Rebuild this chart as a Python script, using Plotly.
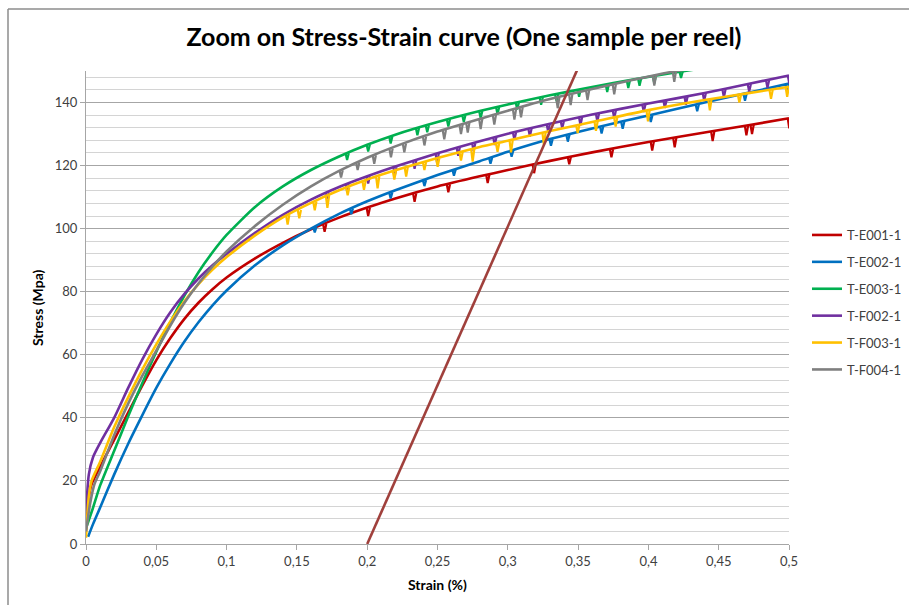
import plotly.graph_objects as go

# ---------------- data ----------------
samples = ["T-E001-1", "T-E002-1", "T-E003-1", "T-F002-1", "T-F003-1", "T-F004-1"]

e001_strain = [0, 0.002, 0.004, 0.01, 0.02, 0.03, 0.04, 0.05, 0.06, 0.07, 0.08, 0.09, 0.1, 0.12, 0.14,
               0.16, 0.18, 0.2, 0.22, 0.25, 0.28, 0.3, 0.33, 0.36, 0.4, 0.44, 0.47, 0.5]
e001_stress = [8, 15, 19, 24.5, 33, 41.7, 50.2, 58.3, 65.3, 71.4, 76.5, 80.8, 84.5, 90.5, 95.5,
               99.8, 103.5, 106.7, 109.6, 113.4, 116.6, 118.6, 121.5, 124.2, 127.5, 130.5, 132.7, 135]
e001_dips = [(0.169, 101.5, 99.0), (0.200, 106.6, 104.0), (0.233, 111.2, 108.5), (0.257, 114.1, 111.5),
             (0.285, 117.1, 114.5), (0.318, 120.4, 117.6), (0.343, 122.7, 120.4), (0.373, 125.2, 122.6),
             (0.402, 127.6, 124.8), (0.418, 128.8, 125.8), (0.445, 130.8, 127.8), (0.469, 132.6, 129.6),
             (0.473, 132.9, 130.0), (0.4995, 135.0, 131.8)]

e002_strain = [0.0015, 0.005, 0.01, 0.02, 0.03, 0.04, 0.05, 0.06, 0.07, 0.08, 0.09, 0.1, 0.12, 0.14,
               0.16, 0.18, 0.2, 0.22, 0.25, 0.28, 0.3, 0.33, 0.36, 0.4, 0.44, 0.47, 0.5]
e002_stress = [2.3, 6.3, 11.5, 22, 31.8, 40.8, 49.5, 57.2, 64.2, 70.3, 75.7, 80.4, 88.3, 94.7,
               100, 104.7, 108.7, 112.2, 117, 121.4, 124.4, 128.4, 131.8, 135.9, 140, 143, 146]
e002_dips = [(0.162, 100.5, 98.8), (0.188, 106.4, 104.6), (0.216, 111.5, 109.6), (0.240, 115.4, 113.5),
             (0.261, 118.7, 116.8), (0.287, 122.5, 120.6), (0.302, 124.7, 122.8), (0.330, 128.4, 126.3),
             (0.342, 129.8, 127.6), (0.366, 132.4, 130.2), (0.381, 133.9, 131.7), (0.401, 136.0, 133.8),
             (0.434, 139.4, 137.2), (0.468, 142.8, 140.6), (0.498, 145.8, 143.5)]

e003_strain = [0, 0.005, 0.01, 0.02, 0.03, 0.04, 0.05, 0.06, 0.07, 0.08, 0.09, 0.1, 0.12, 0.14,
               0.16, 0.18, 0.2, 0.22, 0.25, 0.28, 0.3, 0.33, 0.36, 0.39, 0.42, 0.45, 0.5]
e003_stress = [5, 11.5, 18.5, 29.5, 40.5, 51, 61, 70.3, 78.8, 86.2, 92.5, 98, 106.8, 113.4,
               118.6, 122.9, 126.6, 129.8, 133.8, 137.3, 139.4, 142.3, 144.9, 147.4, 149.6, 151.6, 154.6]
e003_dips = [(0.185, 123.9, 121.8), (0.200, 126.6, 124.5), (0.216, 129.2, 127.0), (0.235, 131.9, 129.6),
             (0.242, 132.8, 130.6), (0.257, 134.7, 132.4), (0.268, 136.0, 133.8), (0.280, 137.3, 135.0),
             (0.292, 138.6, 136.3), (0.306, 140.0, 137.8), (0.323, 141.6, 139.3), (0.334, 142.6, 140.4),
             (0.350, 144.1, 141.8), (0.370, 145.7, 143.3), (0.385, 147.0, 144.6), (0.393, 147.6, 145.3),
             (0.4035, 148.4, 146.0), (0.4225, 149.8, 147.8)]

f002_strain = [0, 0.002, 0.005, 0.01, 0.02, 0.03, 0.04, 0.05, 0.06, 0.07, 0.08, 0.09, 0.1, 0.12, 0.14,
               0.16, 0.18, 0.2, 0.22, 0.25, 0.28, 0.3, 0.33, 0.36, 0.4, 0.44, 0.47, 0.5]
f002_stress = [10, 22, 27.5, 32, 40, 49.5, 58.5, 66.5, 73.5, 79.3, 84.2, 88.4, 92, 98.6, 104.4,
               109.2, 113.2, 116.6, 119.7, 123.9, 127.7, 130.1, 133.3, 136.2, 139.7, 143, 145.8, 148.6]
f002_dips = [(0.171, 111.5, 109.4), (0.185, 114.1, 112.0), (0.200, 116.6, 114.3), (0.219, 119.5, 117.0),
             (0.233, 121.5, 119.0), (0.249, 123.8, 121.0), (0.264, 125.8, 123.1), (0.275, 127.1, 124.6),
             (0.290, 128.9, 126.5), (0.304, 130.5, 128.2), (0.315, 131.7, 129.2), (0.328, 133.1, 130.8),
             (0.338, 134.1, 131.8), (0.351, 135.4, 132.8), (0.363, 136.5, 134.0), (0.375, 137.5, 135.0),
             (0.396, 139.4, 137.0), (0.411, 140.7, 138.3), (0.426, 142.0, 139.3), (0.439, 143.0, 140.5),
             (0.453, 144.2, 141.6), (0.471, 145.9, 143.4), (0.484, 147.1, 144.6), (0.4995, 148.6, 146.0)]

f003_strain = [0, 0.002, 0.004, 0.01, 0.02, 0.03, 0.04, 0.05, 0.06, 0.07, 0.08, 0.09, 0.1, 0.12, 0.14,
               0.16, 0.18, 0.2, 0.22, 0.25, 0.28, 0.3, 0.33, 0.36, 0.4, 0.44, 0.47, 0.5]
f003_stress = [2, 15, 20, 26, 37, 46.5, 55.3, 63.3, 70.6, 77, 82.4, 87, 91, 97.8, 103.6,
               108.2, 112.2, 115.6, 118.5, 122.4, 125.9, 127.9, 131, 133.8, 137.6, 140.8, 142.9, 145]
f003_dips = [(0.1427, 104.3, 101.3), (0.151, 105.9, 103.3), (0.162, 108.6, 105.8), (0.171, 110.4, 106.6),
             (0.1854, 113.1, 110.6), (0.197, 115.1, 112.3), (0.2067, 116.6, 112.8), (0.2186, 118.3, 115.6),
             (0.227, 119.5, 116.5), (0.240, 121.1, 118.6), (0.2494, 122.3, 119.6), (0.266, 124.3, 121.6),
             (0.2743, 125.3, 121.3), (0.292, 127.1, 124.4), (0.3016, 128.1, 124.2), (0.325, 130.5, 126.5),
             (0.349, 132.8, 130.3), (0.362, 134.0, 131.0), (0.376, 135.3, 132.4), (0.399, 137.5, 134.0),
             (0.443, 141.0, 137.5), (0.464, 142.5, 140.0), (0.4865, 144.0, 141.2), (0.498, 144.9, 141.8)]

f004_strain = [0, 0.003, 0.006, 0.01, 0.02, 0.03, 0.04, 0.05, 0.06, 0.07, 0.08, 0.09, 0.1, 0.12, 0.14,
               0.16, 0.18, 0.2, 0.22, 0.25, 0.28, 0.3, 0.33, 0.36, 0.39, 0.42, 0.46, 0.5]
f004_stress = [4, 13, 19, 23, 34.5, 44.5, 53.3, 61.3, 69.3, 76.5, 82.6, 88, 92.8, 100.8, 107.6,
               113.4, 118.3, 122.5, 126.1, 130.8, 134.8, 137.4, 141.1, 144.3, 147.3, 150, 152.5, 155]
f004_dips = [(0.1807, 118.5, 116.2), (0.1925, 121.0, 118.6), (0.2043, 123.3, 120.6), (0.2162, 125.4, 122.6),
             (0.2257, 127.0, 124.2), (0.240, 129.2, 126.4), (0.2541, 131.3, 128.3), (0.266, 133.0, 130.0),
             (0.2708, 133.6, 130.5), (0.280, 134.8, 131.6), (0.2897, 136.1, 133.0), (0.304, 137.9, 134.6),
             (0.3087, 138.5, 135.3), (0.3348, 141.6, 138.2), (0.344, 142.6, 139.2), (0.356, 143.9, 140.8),
             (0.375, 145.8, 142.6), (0.4035, 148.5, 145.4), (0.4177, 149.8, 146.6)]

offset_strain = [0.2, 0.35]
offset_stress = [0, 151]

x_tickvals = [0, 0.05, 0.1, 0.15, 0.2, 0.25, 0.3, 0.35, 0.4, 0.45, 0.5]
x_ticktext = ["0", "0,05", "0,1", "0,15", "0,2", "0,25", "0,3", "0,35", "0,4", "0,45", "0,5"]
y_tickvals = [0, 20, 40, 60, 80, 100, 120, 140]

# ---------------- styling ----------------
colors = ["#C00000", "#0070C0", "#00B050", "#7030A0", "#FFC000", "#7F7F7F"]
FONT = "Lato"
LW = 2.6


def dip_segments(dips):
    xs, ys = [], []
    for x, top, bottom in dips:
        xs += [x - 0.0004, x + 0.0007, x + 0.0019, None]
        ys += [top, bottom, top, None]
    return xs, ys


series = [
    (e001_strain, e001_stress, e001_dips),
    (e002_strain, e002_stress, e002_dips),
    (e003_strain, e003_stress, e003_dips),
    (f002_strain, f002_stress, f002_dips),
    (f003_strain, f003_stress, f003_dips),
    (f004_strain, f004_stress, f004_dips),
]

fig = go.Figure()
for name, color, (sx, sy, dp) in zip(samples, colors, series):
    fig.add_trace(go.Scatter(x=sx, y=sy, mode="lines", name=name, legendgroup=name,
                             line=dict(color=color, width=LW, shape="spline", smoothing=0.6)))
    dx, dy = dip_segments(dp)
    fig.add_trace(go.Scatter(x=dx, y=dy, mode="lines", name=name, legendgroup=name,
                             showlegend=False, line=dict(color=color, width=2.2)))

fig.add_trace(go.Scatter(x=offset_strain, y=offset_stress, mode="lines", showlegend=False,
                         line=dict(color="#A0403C", width=LW)))

L, R, T, B = 86, 120, 71, 61
W, H = 909, 605
pw, ph = W - L - R, H - T - B


def px(xp):
    return (xp - L) / pw


def py(yp):
    return (H - B - yp) / ph


fig.update_layout(
    width=W, height=H,
    margin=dict(l=L, r=R, t=T, b=B, pad=0, autoexpand=False),
    paper_bgcolor="white", plot_bgcolor="white",
    font=dict(family=FONT, color="#404040", size=13),
    title=dict(text="<b>Zoom on Stress-Strain curve (One sample per reel)</b>",
               font=dict(family=FONT, size=25, color="black"),
               x=464 / W, xanchor="center", xref="container",
               y=1 - 37 / H, yanchor="middle", yref="container"),
    showlegend=True,
    legend=dict(x=px(807), y=py(220), xanchor="left", yanchor="top",
                font=dict(family=FONT, size=13, color="#404040"),
                traceorder="grouped", tracegroupgap=7, itemwidth=30,
                bgcolor="rgba(0,0,0,0)"),
    xaxis=dict(range=[0, 0.5], tickvals=x_tickvals, ticktext=x_ticktext,
               showgrid=False, zeroline=False, showline=True, linecolor="#A6A6A6", linewidth=1,
               ticks="outside", ticklen=5, tickcolor="#A6A6A6",
               tickfont=dict(family=FONT, size=13, color="#404040")),
    yaxis=dict(range=[0, 150], tickvals=y_tickvals,
               showgrid=True, gridcolor="#A6A6A6", gridwidth=1,
               zeroline=False, showline=True, linecolor="#A6A6A6", linewidth=1,
               ticks="outside", ticklen=5, tickcolor="#A6A6A6",
               tickfont=dict(family=FONT, size=13, color="#404040"),
               minor=dict(dtick=4, tick0=0, showgrid=True, gridcolor="#D4D4D4", gridwidth=1)),
    annotations=[
        dict(text="<b>Stress (Mpa)</b>", x=px(37), y=py(308), xref="paper", yref="paper",
             textangle=-90, showarrow=False, font=dict(family=FONT, size=14, color="black"),
             xanchor="center", yanchor="middle"),
        dict(text="<b>Strain (%)</b>", x=px(437), y=py(584), xref="paper", yref="paper",
             showarrow=False, font=dict(family=FONT, size=14, color="black"),
             xanchor="center", yanchor="middle"),
    ],
    shapes=[
        dict(type="line", xref="paper", yref="paper", x0=px(8), x1=px(909), y0=py(9), y1=py(9),
             line=dict(color="#8C8C8C", width=1.5)),
        dict(type="line", xref="paper", yref="paper", x0=px(8), x1=px(8), y0=py(9), y1=py(605),
             line=dict(color="#8C8C8C", width=1.5)),
    ],
)

fig.write_html("out.html")
